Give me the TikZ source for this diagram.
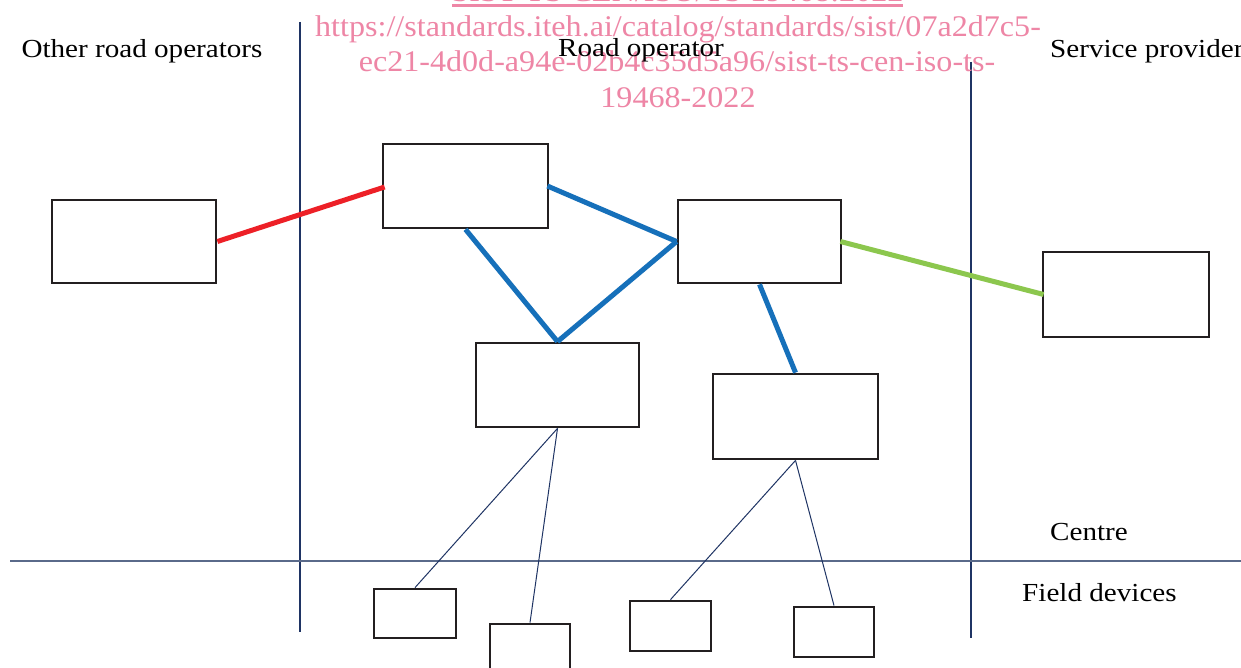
\documentclass[tikz,border=0pt]{standalone}
\usepackage{fontspec}
\newfontfamily\lblfont[FakeStretch=1.12]{Liberation Serif}
\newfontfamily\wmfont[FakeStretch=1.07]{Liberation Serif}
\definecolor{boxc}{RGB}{35,31,32}
\definecolor{redc}{RGB}{237,32,39}
\definecolor{bluec}{RGB}{22,112,186}
\definecolor{greenc}{RGB}{140,199,78}
\definecolor{navyc}{RGB}{31,52,100}
\definecolor{slatec}{RGB}{90,106,138}
\definecolor{pinkc}{RGB}{238,134,166}
\tikzset{
  blk/.style={draw=boxc, line width=2.8pt, inner sep=0pt, fill=white},
  bigbox/.style={blk, minimum width=164pt, minimum height=83pt},
  fieldbox/.style={blk, minimum width=81pt, minimum height=49pt},
  lbl/.style={font=\lblfont\fontsize{26}{30}\selectfont, text=black, inner sep=0pt, anchor=base},
  wm/.style={font=\wmfont\fontsize{30}{34}\selectfont, text=pinkc, inner sep=0pt, anchor=base},
  redlink/.style={draw=redc, line width=5pt},
  bluelink/.style={draw=bluec, line width=5pt},
  greenlink/.style={draw=greenc, line width=5pt},
  thinlink/.style={draw=navyc, line width=1pt},
  divider/.style={draw=navyc, line width=1.3pt},
  hdivider/.style={draw=slatec, line width=2pt}
}
\begin{document}
\begin{tikzpicture}[x=1pt,y=-1pt]
\useasboundingbox (0,0) rectangle (1241,668);
\clip (0,0) rectangle (1241,668);
\fill[white] (0,0) rectangle (1241,668);

% dividers
\coordinate (v1t) at (300,22);
\coordinate (v1b) at (300,632);
\coordinate (v2t) at (971,62);
\coordinate (v2b) at (971,638);
\coordinate (hl) at (10,561);
\coordinate (hr) at (1241,561);
\draw[divider] (v1t) -- (v1b);
\draw[divider] (v2t) -- (v2b);
\draw[hdivider] (hl) -- (hr);

% watermark
\node[wm] (wm0) at (677.5,1.5) {SIST-TS CEN/ISO/TS 19468:2022};
\coordinate (ul1) at (452,5.5);
\coordinate (ul2) at (903,5.5);
\draw[draw=pinkc, line width=3pt] (ul1) -- (ul2);
\node[wm] (wm1) at (678,37) {https://standards.iteh.ai/catalog/standards/sist/07a2d7c5-};
\node[wm] (wm2) at (677,72) {ec21-4d0d-a94e-02b4c35d5a96/sist-ts-cen-iso-ts-};
\node[wm] (wm3) at (678,108) {19468-2022};

% labels
\node[lbl] (lother) at (142,58) {Other road operators};
\node[lbl] (lroad) at (641,57) {Road operator};
\node[lbl, anchor=base west] (lserv) at (1050,58) {Service provider};
\node[lbl, anchor=base west] (lcentre) at (1050,540) {Centre};
\node[lbl, anchor=base west] (lfield) at (1022,601) {Field devices};

% boxes
\node[bigbox] (A) at (134,241.5) {};
\node[bigbox, minimum width=165pt, minimum height=84pt] (B) at (465.5,186) {};
\node[bigbox, minimum width=163pt] (C) at (759.5,241.5) {};
\node[bigbox, minimum width=163pt, minimum height=84pt] (D) at (557.5,385) {};
\node[bigbox, minimum width=165pt, minimum height=85pt] (E) at (795.5,416.5) {};
\node[bigbox, minimum width=166pt, minimum height=85pt] (F) at (1126,294.5) {};

\node[fieldbox, minimum width=82pt] (f1) at (415,613.5) {};
\node[fieldbox, minimum width=80pt, minimum height=52pt] (f2) at (530,650) {};
\node[fieldbox, minimum width=81pt, minimum height=50pt] (f3) at (670.5,626) {};
\node[fieldbox, minimum width=80pt, minimum height=50pt] (f4) at (834,632) {};

% links
\draw[redlink] (A.east) -- ([yshift=-1pt,xshift=3pt]B.west);
\draw[bluelink] ([xshift=-2pt]B.east) -- (C.west);
\draw[bluelink] (B.south) -- (D.north);
\draw[bluelink] (D.north) -- (C.west);
\draw[bluelink] (C.south) -- (E.north);
\draw[greenlink] ([xshift=-2pt]C.east) -- ([xshift=2pt]F.west);
\draw[thinlink] (D.south) -- (f1.north);
\draw[thinlink] (D.south) -- (f2.north);
\draw[thinlink] (E.south) -- (f3.north);
\draw[thinlink] (E.south) -- (f4.north);
\end{tikzpicture}
\end{document}
